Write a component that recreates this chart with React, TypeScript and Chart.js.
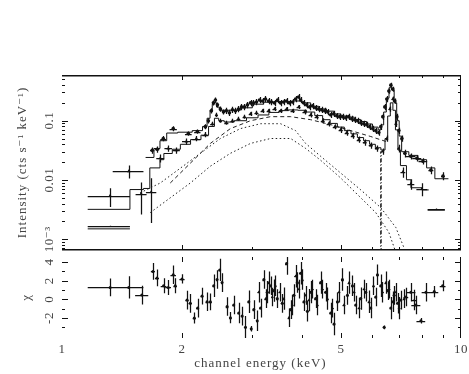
import React, { useEffect, useRef } from "react";
import { Chart, registerables } from "chart.js";

Chart.register(...registerables);

// ---------------- spectrum: data set A (upper) ----------------
const setAEnergy = [1.683,1.733,1.794,1.900,2.073,2.184,2.287,2.327,2.368,2.396,2.424,2.452,2.495,2.539,2.582,2.628,2.674,2.721,2.768,2.817,2.866,2.916,2.968,3.019,3.072,3.126,3.181,3.236,3.293,3.350,3.409,3.469,3.530,3.592,3.654,3.718,3.784,3.849,3.917,3.963,4.033,4.104,4.175,4.248,4.323,4.398,4.476,4.554,4.634,4.715,4.797,4.881,4.966,5.052,5.141,5.231,5.322,5.415,5.510,5.608,5.705,5.804,5.906,6.009,6.114,6.223,6.295,6.368,6.442,6.518,6.594,6.670,6.748,6.826,6.906,6.986,7.109,7.234,7.487,7.751,8.026,8.405,9.012];
const setAIntensity = [0.0316,0.0329,0.0501,0.0736,0.0607,0.0656,0.0794,0.100,0.147,0.200,0.224,0.185,0.158,0.141,0.147,0.136,0.153,0.147,0.158,0.171,0.171,0.185,0.200,0.200,0.207,0.224,0.215,0.233,0.215,0.207,0.200,0.224,0.200,0.207,0.215,0.200,0.207,0.233,0.251,0.224,0.200,0.185,0.171,0.178,0.165,0.158,0.153,0.147,0.141,0.126,0.131,0.121,0.117,0.117,0.112,0.117,0.108,0.104,0.100,0.0926,0.089,0.0858,0.0794,0.0736,0.0681,0.0631,0.0794,0.117,0.171,0.233,0.316,0.398,0.341,0.215,0.117,0.0681,0.0501,0.0282,0.0251,0.0233,0.0207,0.0147,0.0117];
const setAEnergyErr = [0.02,0.02,0.03,0.04,0.04,0.04,0.02,0.015,0.015,0.015,0.015,0.015,0.015,0.015,0.015,0.015,0.015,0.02,0.02,0.02,0.02,0.02,0.02,0.02,0.02,0.02,0.02,0.02,0.02,0.02,0.025,0.025,0.025,0.025,0.025,0.025,0.025,0.025,0.025,0.025,0.025,0.025,0.025,0.025,0.025,0.03,0.03,0.03,0.03,0.03,0.03,0.03,0.03,0.03,0.03,0.03,0.035,0.035,0.035,0.035,0.035,0.035,0.035,0.035,0.035,0.035,0.035,0.035,0.035,0.035,0.035,0.035,0.035,0.035,0.035,0.035,0.05,0.06,0.2,0.2,0.2,0.12,0.1];
const setARelErr = [0.12,0.12,0.1,0.1,0.08,0.08,0.1,0.1,0.1,0.1,0.1,0.1,0.1,0.1,0.12,0.12,0.12,0.12,0.12,0.12,0.12,0.12,0.12,0.12,0.12,0.12,0.12,0.12,0.12,0.12,0.12,0.12,0.12,0.12,0.12,0.12,0.12,0.12,0.12,0.12,0.12,0.12,0.12,0.12,0.12,0.12,0.12,0.12,0.12,0.12,0.12,0.12,0.12,0.12,0.12,0.12,0.12,0.12,0.12,0.12,0.12,0.12,0.12,0.12,0.12,0.12,0.12,0.12,0.12,0.12,0.1,0.1,0.1,0.1,0.12,0.12,0.12,0.15,0.12,0.12,0.12,0.15,0.15];

// ---------------- spectrum: data set B (lower) ----------------
const setBEnergy = [1.320,1.470,1.579,1.673,1.763,1.846,1.934,2.049,2.171,2.287,2.382,2.438,2.495,2.582,2.674,2.768,2.866,2.968,3.072,3.181,3.293,3.409,3.530,3.654,3.784,3.917,4.056,4.200,4.347,4.502,4.660,4.826,4.995,5.171,5.354,5.543,5.738,5.941,6.152,6.368,6.518,6.632,6.748,6.866,6.986,7.151,7.487,7.980];
const setBIntensity = [0.0054,0.0141,0.00584,0.0063,0.0233,0.0341,0.0316,0.0447,0.0501,0.0584,0.089,0.126,0.100,0.0926,0.100,0.108,0.117,0.131,0.136,0.147,0.147,0.158,0.147,0.158,0.147,0.171,0.141,0.126,0.117,0.100,0.089,0.0794,0.0708,0.0631,0.0562,0.0482,0.043,0.0383,0.0341,0.0304,0.0501,0.158,0.233,0.089,0.0341,0.0136,0.00858,0.00708];
const setBEnergyErr = [0.16,0.13,0.05,0.05,0.04,0.04,0.04,0.05,0.05,0.04,0.03,0.02,0.02,0.03,0.03,0.03,0.03,0.03,0.035,0.035,0.035,0.04,0.04,0.04,0.045,0.045,0.05,0.05,0.05,0.05,0.055,0.055,0.06,0.06,0.06,0.065,0.065,0.07,0.07,0.05,0.04,0.04,0.04,0.04,0.05,0.1,0.15,0.25];
const setBRelErr = [0.35,0.25,0.55,0.7,0.15,0.12,0.12,0.12,0.1,0.1,0.08,0.08,0.08,0.08,0.08,0.08,0.08,0.08,0.08,0.08,0.08,0.08,0.08,0.08,0.08,0.08,0.1,0.1,0.1,0.1,0.1,0.1,0.12,0.12,0.12,0.12,0.12,0.12,0.12,0.12,0.12,0.1,0.1,0.12,0.15,0.2,0.2,0.25];

// ---------------- spectrum: data set C (two broad bins) ----------------
const setCEnergy = [1.32, 8.68];
const setCIntensity = [0.00165, 0.00322];
const setCEnergyErr = [0.16, 0.43];
const setCModel = [0.0015, 0.0031];

// ---------------- folded models (histograms: left edges + values) ----------------
const modelAEdges = [1.62,1.70,1.76,1.83,1.95,2.12,2.25,2.31,2.35,2.38,2.41,2.44,2.48,2.6,2.8,3.0,3.2,3.4,3.6,3.8,4.0,4.2,4.4,4.6,4.8,5.0,5.2,5.4,5.6,5.8,6.0,6.2,6.3,6.4,6.5,6.6,6.7,6.8,6.9,7.0,7.1,7.4,7.8,8.2,8.6,9.3];
const modelAValues = [0.024,0.034,0.046,0.062,0.064,0.068,0.08,0.11,0.15,0.19,0.2,0.17,0.15,0.15,0.165,0.19,0.205,0.21,0.21,0.215,0.2,0.175,0.158,0.145,0.13,0.12,0.115,0.105,0.097,0.088,0.078,0.07,0.085,0.14,0.24,0.36,0.33,0.2,0.1,0.055,0.03,0.026,0.022,0.016,0.0105,0.0105];
const modelBEdges = [1.16,1.48,1.60,1.66,1.76,1.80,1.89,1.98,2.10,2.23,2.33,2.41,2.47,2.55,2.7,2.9,3.1,3.3,3.5,3.7,3.9,4.1,4.3,4.5,4.7,4.9,5.1,5.3,5.5,5.7,5.9,6.1,6.3,6.45,6.55,6.65,6.75,6.85,6.95,7.05,7.3,7.49,7.98,8.3];
const modelBValues = [0.0032,0.0069,0.0072,0.016,0.022,0.028,0.033,0.040,0.048,0.057,0.08,0.11,0.1,0.095,0.1,0.112,0.125,0.138,0.148,0.152,0.15,0.14,0.122,0.104,0.09,0.078,0.068,0.06,0.052,0.046,0.04,0.035,0.032,0.05,0.12,0.2,0.15,0.07,0.032,0.0175,0.0101,0.0074,0.0068,0.0068];

// ---------------- model components ----------------
const comp1Energy = [1.570,1.763,1.979,2.222,2.495,2.801,3.145,3.530,3.849,4.079,4.449,4.995,5.608,6.295,6.866,7.275];
const comp1Intensity = [0.00607,0.0089,0.0158,0.0282,0.0501,0.0736,0.089,0.089,0.0681,0.0414,0.0251,0.0131,0.00681,0.00341,0.00158,0.0006];
const comp2Energy = [1.664,1.868,2.097,2.354,2.643,2.968,3.332,3.741,4.079,4.449,4.995,5.608,6.114,6.594,6.866];
const comp2Intensity = [0.00282,0.00501,0.0089,0.0171,0.0282,0.0414,0.0501,0.0501,0.0341,0.0215,0.0108,0.00501,0.00282,0.00131,0.0006];
const comp3Energy = [1.868,2.097,2.354,2.643,2.968,3.332,3.741,4.200,4.715,5.293,5.941,6.480];
const comp3Intensity = [0.0089,0.0192,0.0414,0.0736,0.1,0.117,0.117,0.104,0.0858,0.0681,0.0541,0.0447];
const lineEnergy = [6.0, 6.29, 6.31, 6.6];
const lineIntensity = [0.0001, 0.03, 0.0001, 0.0001];

// ---------------- residuals ----------------
const resAEnergy = [1.32,1.47,1.585,1.690,1.730,1.797,1.846,1.900,1.922,1.999,2.058,2.097,2.146,2.188,2.244,2.310,2.354,2.400,2.447,2.484,2.519,2.593,2.643,2.694,2.773,2.828,2.883,2.939,2.980,3.025,3.085,3.145,3.206,3.269,3.332,3.396,3.463,3.565,3.654,3.741,3.813,3.888,3.963,4.040,4.120,4.200,4.323,4.449,4.580,4.715,4.806,4.901,5.044,5.192,5.345,5.448,5.608,5.772,5.941,6.114,6.175,6.295,6.417,6.544,6.670,6.799,6.934,7.067,7.275,7.487,7.708,7.933,8.168,8.570,8.995];
const resAChi = [1.28,1.28,0.46,3.0,2.3,1.46,1.28,2.65,1.46,2.2,-0.08,-0.43,-2.0,-0.94,0.36,-0.26,-0.26,1.46,2.13,3.16,1.8,-0.77,-1.97,-0.6,-1.46,-1.8,-3.0,-0.26,-3.16,-1.1,-2.3,-0.94,2.13,0.77,1.46,0.94,0.08,-0.43,3.85,-1.1,0.43,1.8,2.8,-0.26,-1.28,0.77,0.08,1.8,0.77,-1.46,-2.65,-0.26,2.13,0.43,1.46,-0.6,0.08,0.77,-0.94,0.26,2.65,1.46,-3.0,0.94,-0.94,0.43,-0.43,-0.08,0.26,0.77,-0.6,-2.3,0.77,0.84,1.46];
const resAEnergyErr = [0.16,0.13,0.06,0.02,0.02,0.03,0.03,0.03,0.02,0.03,0.02,0.02,0.02,0.02,0.02,0.02,0.02,0.015,0.015,0.015,0.015,0.02,0.02,0.02,0.02,0.02,0.02,0.02,0.02,0.02,0.02,0.025,0.025,0.025,0.025,0.025,0.025,0.03,0.03,0.03,0.03,0.03,0.03,0.03,0.03,0.03,0.035,0.035,0.035,0.035,0.035,0.035,0.04,0.04,0.04,0.04,0.04,0.04,0.045,0.045,0.045,0.045,0.045,0.045,0.045,0.045,0.05,0.05,0.1,0.2,0.2,0.2,0.2,0.2,0.15];
const resAChiErr = [0.95,1.2,1.0,0.9,0.9,0.8,0.8,1.0,0.8,0.5,1.0,1.0,0.6,1.0,0.9,1.0,0.9,1.2,1.0,1.2,1.0,1.0,0.6,1.0,1.1,1.0,1.2,1.2,0.3,1.0,1.1,1.0,1.0,1.2,1.0,1.2,1.0,1.0,1.2,1.0,1.2,1.1,1.2,1.0,1.1,1.2,1.0,1.2,1.0,1.1,1.2,1.0,1.2,1.0,1.1,1.0,1.2,1.0,1.1,1.0,1.1,1.2,0.2,1.0,1.2,1.0,1.1,1.0,1.0,1.0,1.0,0.3,1.0,0.6,0.6];
const resBEnergy = [3.112,3.237,3.299,3.365,3.428,3.516,3.597,3.704,3.777,3.849,3.924,4.002,4.079,4.157,4.240,4.364,4.492,4.626,4.761,4.946,5.090,5.241,5.395,5.553,5.715,5.883,6.035,6.357,6.480,6.604,6.736,6.866,6.998,7.203,7.632];
const resBChi = [0.77,0.08,1.8,0.26,1.46,0.77,0.08,-1.97,-0.6,2.48,1.1,2.13,0.43,-0.08,1.1,-0.6,1.1,0.08,-0.94,0.77,-0.6,1.8,0.77,-0.94,1.1,-0.26,1.46,0.77,1.8,1.1,-0.26,0.77,-0.94,0.08,-0.08];
const resBEnergyErr = [0.02,0.02,0.02,0.02,0.02,0.025,0.025,0.025,0.025,0.025,0.03,0.03,0.03,0.03,0.03,0.03,0.035,0.035,0.035,0.035,0.04,0.04,0.04,0.04,0.04,0.045,0.045,0.045,0.045,0.045,0.045,0.045,0.05,0.05,0.1];
const resBChiErr = [1.1,1.0,1.2,1.0,1.1,1.0,1.2,1.0,1.1,1.2,1.0,1.1,1.0,1.2,1.0,1.1,1.0,1.2,1.0,1.1,1.0,1.2,1.0,1.1,1.0,1.2,1.0,1.1,1.2,1.0,1.1,1.0,1.2,1.0,1.1];

// ---------------- axes ----------------
const xRange = [1, 10];
const yRange = [6.6e-4, 0.59];
const rRange = [-4.15, 4.55];
const xMajorTicks = [1, 2, 5, 10];
const xMajorLabels = ["1", "2", "5", "10"];
const xMinorTicks = [3, 4, 6, 7, 8, 9];
const yMajorTicks = [0.001, 0.01, 0.1];
const yMajorLabels = ["10\u207B\u00B3", "0.01", "0.1"];
const yMinorTicks = [7e-4,8e-4,9e-4,0.002,0.003,0.004,0.005,0.006,0.007,0.008,0.009,0.02,0.03,0.04,0.05,0.06,0.07,0.08,0.09,0.2,0.3,0.4,0.5];
const rMajorTicks = [-4, -2, 0, 2, 4];
const rMajorLabels = ["", "-2", "0", "2", "4"];
const rMinorTicks = [-3, -1, 1, 3];
const yTitle = "Intensity (cts s\u207B\u00B9 keV\u207B\u00B9)";
const rTitle = "\u03C7";
const xTitle = "channel energy (keV)";

const INK = "#111";
const LABEL = "#444";
const FONT = '"Liberation Serif", "DejaVu Serif", serif';

const errorBars = {
  id: "errorBars",
  beforeDatasetsDraw(chart: any) {
    const { ctx, chartArea: a } = chart;
    const xs = chart.scales.x, ys = chart.scales.y;
    ctx.save();
    ctx.beginPath();
    ctx.rect(a.left, a.top, a.right - a.left, a.bottom - a.top);
    ctx.clip();
    ctx.strokeStyle = INK;
    ctx.lineWidth = 1.25;
    chart.data.datasets.forEach((ds: any) => {
      if (!ds.errX) return;
      ctx.beginPath();
      ds.data.forEach((p: any, i: number) => {
        const py = ys.getPixelForValue(p.y);
        const px = xs.getPixelForValue(p.x);
        const x0 = xs.getPixelForValue(p.x - ds.errX[i]);
        const x1 = xs.getPixelForValue(p.x + ds.errX[i]);
        const y0 = ys.getPixelForValue(ds.errLo[i]);
        const y1 = ys.getPixelForValue(ds.errHi[i]);
        ctx.moveTo(x0, Math.round(py) + 0.5);
        ctx.lineTo(x1, Math.round(py) + 0.5);
        ctx.moveTo(Math.round(px) + 0.5, y0);
        ctx.lineTo(Math.round(px) + 0.5, y1);
      });
      ctx.stroke();
    });
    ctx.restore();
    ctx.beginPath();
  },
};

function drawFrame(chart: any, yMaj: number[], yMin: number[], drawTopLine: boolean, drawBottomLine: boolean) {
  const { ctx, chartArea: a } = chart;
  const xs = chart.scales.x, ys = chart.scales.y;
  ctx.strokeStyle = INK;
  ctx.lineWidth = 1.5;
  ctx.beginPath();
  if (drawTopLine) { ctx.moveTo(a.left, a.top + 0.75); ctx.lineTo(a.right, a.top + 0.75); }
  if (drawBottomLine) { ctx.moveTo(a.left, a.bottom - 0.25); ctx.lineTo(a.right, a.bottom - 0.25); }
  ctx.stroke();
  ctx.lineWidth = 1;
  ctx.beginPath();
  ctx.moveTo(a.right - 0.5, a.top); ctx.lineTo(a.right - 0.5, a.bottom);
  const xt = (v: number, len: number) => {
    const x = Math.round(xs.getPixelForValue(v)) + 0.5;
    if (x <= a.left + 1 || x >= a.right - 1) return;
    ctx.moveTo(x, a.top); ctx.lineTo(x, a.top + len);
    ctx.moveTo(x, a.bottom); ctx.lineTo(x, a.bottom - len);
  };
  xMajorTicks.forEach((v) => xt(v, 5));
  xMinorTicks.forEach((v) => xt(v, 3));
  const yt = (v: number, len: number) => {
    const y = Math.round(ys.getPixelForValue(v)) + 0.5;
    if (y < a.top + 1 || y > a.bottom - 1) return;
    ctx.moveTo(a.left, y); ctx.lineTo(a.left + len, y);
    ctx.moveTo(a.right, y); ctx.lineTo(a.right - len, y);
  };
  yMaj.forEach((v) => yt(v, 6));
  yMin.forEach((v) => yt(v, 3));
  ctx.stroke();
  ctx.beginPath();
}

function rotatedText(ctx: any, text: string, x: number, y: number) {
  ctx.save();
  ctx.translate(x, y);
  ctx.rotate(-Math.PI / 2);
  ctx.fillText(text, 0, 0);
  ctx.restore();
}

function setLabelFont(ctx: any, size: number, spacing: string) {
  ctx.fillStyle = LABEL;
  ctx.font = `${size}px ${FONT}`;
  ctx.textAlign = "center";
  ctx.textBaseline = "middle";
  if ("letterSpacing" in ctx) ctx.letterSpacing = spacing;
}

const topAxes = {
  id: "topAxes",
  afterDraw(chart: any) {
    const { ctx, chartArea: a } = chart;
    const ys = chart.scales.y;
    ctx.save();
    drawFrame(chart, yMajorTicks, yMinorTicks, true, true);
    setLabelFont(ctx, 13, "0.5px");
    yMajorTicks.forEach((v, i) => rotatedText(ctx, yMajorLabels[i], a.left - 12, ys.getPixelForValue(v)));
    setLabelFont(ctx, 13, "1px");
    rotatedText(ctx, yTitle, 23, (a.top + a.bottom) / 2);
    ctx.restore();
  },
};

const resAxes = {
  id: "resAxes",
  afterDraw(chart: any) {
    const { ctx, chartArea: a } = chart;
    const xs = chart.scales.x, ys = chart.scales.y;
    ctx.save();
    drawFrame(chart, rMajorTicks, rMinorTicks, false, false);
    setLabelFont(ctx, 13, "0.5px");
    rMajorTicks.forEach((v, i) => {
      if (rMajorLabels[i]) rotatedText(ctx, rMajorLabels[i], a.left - 12, ys.getPixelForValue(v));
    });
    rotatedText(ctx, rTitle, 27, (a.top + a.bottom) / 2);
    xMajorTicks.forEach((v, i) => ctx.fillText(xMajorLabels[i], xs.getPixelForValue(v), a.bottom + 12));
    setLabelFont(ctx, 13, "1px");
    ctx.fillText(xTitle, (a.left + a.right) / 2 - 1, a.bottom + 25.5);
    ctx.restore();
  },
};

const pts = (xs: number[], ys: number[]) => xs.map((x, i) => ({ x, y: ys[i] }));

function dataSet(e: number[], v: number[], de: number[], lo: number[], hi: number[], style: string, r: number) {
  return {
    data: pts(e, v),
    errX: de,
    errLo: lo,
    errHi: hi,
    showLine: false,
    pointStyle: style,
    pointRadius: r,
    pointBackgroundColor: INK,
    pointBorderColor: INK,
    pointBorderWidth: 0,
  };
}

function lineSet(e: number[], v: any[], dash: number[], stepped: any, width = 1, color = INK) {
  return {
    data: pts(e, v),
    showLine: true,
    stepped,
    borderColor: color,
    borderWidth: width,
    borderDash: dash,
    pointRadius: 0,
    spanGaps: false,
    fill: false,
  };
}

export default function App() {
  const topRef = useRef<HTMLCanvasElement>(null);
  const botRef = useRef<HTMLCanvasElement>(null);

  useEffect(() => {
    const setCLineE: number[] = [];
    const setCLineV: any[] = [];
    setCEnergy.forEach((e, i) => {
      setCLineE.push(e - setCEnergyErr[i], e + setCEnergyErr[i], e + setCEnergyErr[i] + 0.01);
      setCLineV.push(setCModel[i], setCModel[i], null);
    });

    const topDatasets: any[] = [
      dataSet(setAEnergy, setAIntensity, setAEnergyErr,
        setAIntensity.map((v, i) => v * (1 - setARelErr[i])),
        setAIntensity.map((v, i) => v * (1 + setARelErr[i])), "circle", 1.8),
      dataSet(setBEnergy, setBIntensity, setBEnergyErr,
        setBIntensity.map((v, i) => v * (1 - setBRelErr[i])),
        setBIntensity.map((v, i) => v * (1 + setBRelErr[i])), "triangle", 2),
      dataSet(setCEnergy, setCIntensity, setCEnergyErr,
        setCIntensity.map((v) => v * 0.97),
        setCIntensity.map((v) => v * 1.03), "circle", 0),
      lineSet(modelAEdges, modelAValues, [], "before", 1),
      lineSet(modelBEdges, modelBValues, [], "before", 1),
      lineSet(setCLineE, setCLineV, [], false, 1),
      lineSet(comp1Energy, comp1Intensity, [1.5, 2.5], false, 1, "#222"),
      lineSet(comp2Energy, comp2Intensity, [1.5, 2.5], false, 1, "#222"),
      lineSet(comp3Energy, comp3Intensity, [4, 3], false, 1, "#222"),
      lineSet(lineEnergy, lineIntensity, [4, 2, 1, 2], "before", 1, "#222"),
    ];

    const resDatasets: any[] = [
      dataSet(resAEnergy, resAChi, resAEnergyErr,
        resAChi.map((v, i) => v - resAChiErr[i]),
        resAChi.map((v, i) => v + resAChiErr[i]), "circle", 1.5),
      dataSet(resBEnergy, resBChi, resBEnergyErr,
        resBChi.map((v, i) => v - resBChiErr[i]),
        resBChi.map((v, i) => v + resBChiErr[i]), "triangle", 1.7),
    ];

    const common = (padding: any, yScale: any) => ({
      responsive: false,
      animation: false as const,
      devicePixelRatio: 1,
      events: [],
      layout: { padding },
      plugins: { legend: { display: false }, tooltip: { enabled: false }, title: { display: false } },
      elements: { line: { tension: 0 } },
      scales: {
        x: { type: "logarithmic", min: xRange[0], max: xRange[1], display: false },
        y: yScale,
      },
    });

    const top = new Chart(topRef.current as HTMLCanvasElement, {
      type: "line",
      data: { datasets: topDatasets },
      options: common({ left: 62, right: 8, top: 75, bottom: 1 },
        { type: "logarithmic", min: yRange[0], max: yRange[1], display: false }) as any,
      plugins: [errorBars, topAxes],
    });
    const bot = new Chart(botRef.current as HTMLCanvasElement, {
      type: "line",
      data: { datasets: resDatasets },
      options: common({ left: 62, right: 8, top: 0, bottom: 36 },
        { type: "linear", min: rRange[0], max: rRange[1], display: false }) as any,
      plugins: [errorBars, resAxes],
    });
    return () => {
      top.destroy();
      bot.destroy();
    };
  }, []);

  return (
    <div style={{ position: "absolute", left: 0, top: 0, width: 469, height: 374, background: "#fff", overflow: "hidden" }}>
      <canvas ref={topRef} width={469} height={254} style={{ position: "absolute", left: 0, top: 0, width: 469, height: 254 }} />
      <canvas ref={botRef} width={469} height={121} style={{ position: "absolute", left: 0, top: 253, width: 469, height: 121 }} />
    </div>
  );
}
